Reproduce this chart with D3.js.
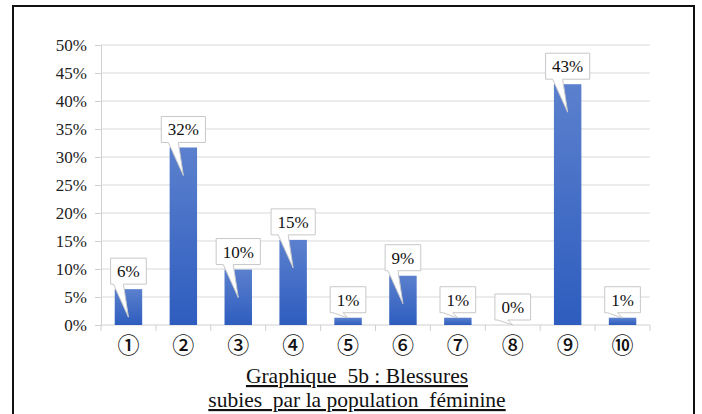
<!DOCTYPE html>
<html>
<head>
<meta charset="utf-8">
<script src="https://cdn.jsdelivr.net/npm/d3@7"></script>
<style>
  body { margin: 0; background: #fff; }
  svg { display: block; }
  .serif { font-family: "Liberation Serif", "DejaVu Serif", serif; }
  .circ { font-family: "Noto Sans CJK JP", sans-serif; }
</style>
</head>
<body>
<svg id="chart" width="702" height="414"></svg>
<script>
// Data
const categories = ["①", "②", "③", "④", "⑤", "⑥", "⑦", "⑧", "⑨", "⑩"];
const values = [6.4, 31.7, 9.9, 15.2, 1.3, 8.8, 1.3, 0, 43.0, 1.3];
const labels = ["6%", "32%", "10%", "15%", "1%", "9%", "1%", "0%", "43%", "1%"];
const yTicks = [0, 5, 10, 15, 20, 25, 30, 35, 40, 45, 50];
const titleLines = ["Graphique  5b : Blessures", "subies  par la population  féminine"];

const svg = d3.select("#chart");
const margin = {top: 45, right: 52, bottom: 89, left: 101};
const width = 702 - margin.left - margin.right;
const height = 414 - margin.top - margin.bottom;

// frame
svg.append("rect")
  .attr("x", 13).attr("y", 6)
  .attr("width", 681).attr("height", 420)
  .attr("fill", "none").attr("stroke", "#111").attr("stroke-width", 2);

// gradient for bars
const grad = svg.append("defs").append("linearGradient")
  .attr("id", "barGrad").attr("x1", 0).attr("y1", 0).attr("x2", 0).attr("y2", 1);
grad.append("stop").attr("offset", "0%").attr("stop-color", "#5b80cd");
grad.append("stop").attr("offset", "100%").attr("stop-color", "#2e5dbf");

const g = svg.append("g").attr("transform", `translate(${margin.left},${margin.top})`);

const x = d3.scaleBand().domain(categories).range([0, width]).paddingInner(0.5).paddingOuter(0.25);
const y = d3.scaleLinear().domain([0, 50]).range([height, 0]);

// gridlines
g.append("g")
  .selectAll("line")
  .data(yTicks.slice(1))
  .enter().append("line")
    .attr("x1", 0).attr("x2", width)
    .attr("y1", d => y(d)).attr("y2", d => y(d))
    .attr("stroke", "#d9d9d9").attr("stroke-width", 1);

// y axis
const yAxis = g.append("g")
  .call(d3.axisLeft(y).tickValues(yTicks).tickFormat(d => d + "%").tickSize(6).tickPadding(8));
yAxis.attr("font-family", null).attr("font-size", null);
yAxis.select(".domain").attr("stroke", "#d0d0d0");
yAxis.selectAll(".tick line").attr("stroke", "#d0d0d0");
yAxis.selectAll("text")
  .attr("class", "serif").attr("font-size", 17).attr("fill", "#222");

// x axis with ticks at band boundaries
const xAxis = g.append("g").attr("transform", `translate(0,${height})`);
xAxis.append("line").attr("x1", 0).attr("x2", width).attr("y1", 0).attr("y2", 0).attr("stroke", "#d0d0d0");
const step = x.step();
const bounds = d3.range(categories.length + 1).map(i => x(categories[0]) - step * 0.25 + i * step);
xAxis.selectAll(".bt").data(bounds).enter().append("line")
  .attr("x1", d => d).attr("x2", d => d).attr("y1", 0).attr("y2", 6)
  .attr("stroke", "#d0d0d0");
xAxis.selectAll(".cat").data(categories).enter().append("text")
  .attr("class", "circ")
  .attr("x", d => x(d) + x.bandwidth() / 2)
  .attr("y", 28)
  .attr("text-anchor", "middle")
  .style("font-size", "22px")
  .style("font-weight", "500")
  .attr("fill", "#111")
  .text(d => d);

// bars
g.selectAll(".bar")
  .data(values)
  .enter().append("rect")
    .attr("x", (d, i) => x(categories[i]))
    .attr("y", d => y(d))
    .attr("width", x.bandwidth())
    .attr("height", d => height - y(d))
    .attr("fill", "url(#barGrad)");

// data callouts
const lab = g.append("g");
values.forEach((v, i) => {
  const cx = x(categories[i]) + x.bandwidth() / 2;
  const t = lab.append("text")
    .attr("class", "serif").attr("font-size", 17).attr("fill", "#111")
    .attr("text-anchor", "middle")
    .text(labels[i]);
  const tw = t.node().getComputedTextLength();
  const bw = tw + 13, bh = 26;
  const by1 = y(v) - 5, by0 = by1 - bh;
  const bx0 = cx - bw / 2, bx1 = cx + bw / 2;
  const tipY = Math.min(by1 + 33, Math.max(y(v), height - 7));
  const p = d3.path();
  p.moveTo(bx0, by0);
  p.lineTo(bx1, by0);
  p.lineTo(bx1, by1);
  p.lineTo(cx - 5, by1);
  p.lineTo(cx, tipY);
  p.lineTo(cx - 15, by1);
  p.lineTo(bx0, by1);
  p.closePath();
  lab.insert("path", "text")
    .attr("d", p.toString())
    .attr("fill", "#fff").attr("stroke", "#c8c8c8").attr("stroke-width", 1);
  t.attr("x", cx).attr("y", by0 + 19);
});
lab.selectAll("text").raise();

// title
svg.selectAll(".title")
  .data(titleLines)
  .enter().append("text")
    .attr("class", "serif")
    .attr("x", 357)
    .attr("y", (d, i) => 383 + i * 24)
    .attr("text-anchor", "middle")
    .attr("font-size", 21.5)
    .attr("fill", "#111")
    .attr("text-decoration", "underline")
    .style("white-space", "pre")
    .text(d => d);
</script>
</body>
</html>
